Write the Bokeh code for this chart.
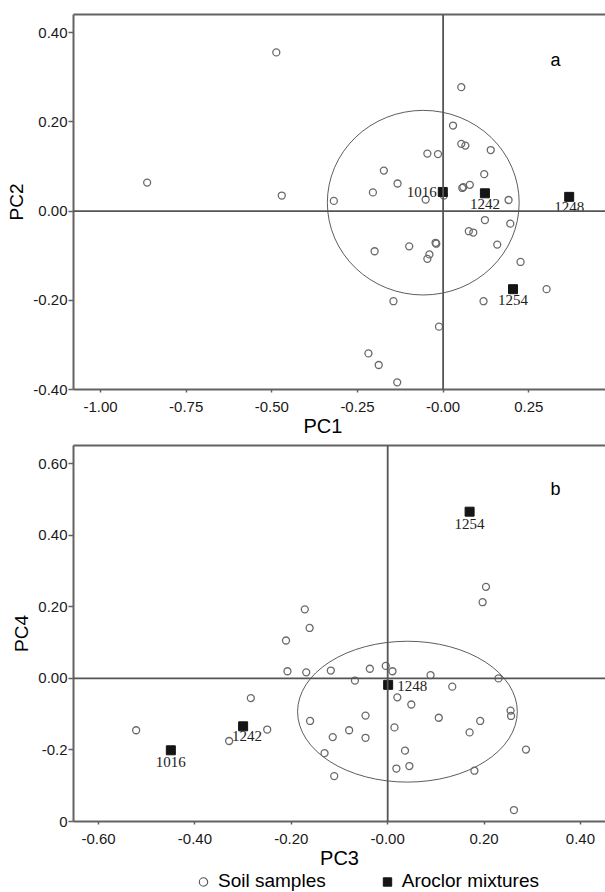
from bokeh.plotting import figure
from bokeh.layouts import column
from bokeh.models import (Span, Label, LinearAxis, FixedTicker, Legend, LegendItem,
                          ColumnDataSource, Range1d)
from bokeh.core.properties import value
from bokeh.embed import file_html
from bokeh.resources import INLINE

# ---------------- data: panel a (PC1 vs PC2) ----------------
soil_pc1 = [-0.487, -0.864, -0.471, 0.053, 0.029, 0.053, 0.065, 0.139, -0.046, -0.015,
            -0.173, 0.120, -0.133, 0.078, 0.056, 0.059, -0.205, -0.319, -0.051, 0.002,
            0.191, 0.122, 0.196, 0.075, 0.088, 0.158, -0.022, -0.020, -0.099, -0.200,
            -0.040, -0.046, 0.226, 0.302, -0.145, 0.118, -0.012, -0.218, -0.188, -0.134]
soil_pc2 = [0.356, 0.064, 0.035, 0.278, 0.192, 0.151, 0.147, 0.137, 0.129, 0.128,
            0.091, 0.083, 0.062, 0.059, 0.052, 0.054, 0.042, 0.023, 0.026, 0.035,
            0.025, -0.020, -0.028, -0.045, -0.048, -0.075, -0.071, -0.073, -0.079, -0.090,
            -0.097, -0.107, -0.114, -0.175, -0.202, -0.202, -0.259, -0.319, -0.345, -0.384]
aroclor_names = ["1016", "1242", "1248", "1254"]
aroclor_pc1 = [-0.001, 0.122, 0.368, 0.204]
aroclor_pc2 = [0.043, 0.040, 0.032, -0.175]
ellipse_a = {"x": [-0.058], "y": [0.019], "w": [0.560], "h": [0.414]}

# ---------------- data: panel b (PC3 vs PC4) ----------------
soil_pc3 = [0.204, 0.197, -0.172, -0.162, -0.211, -0.208, -0.169, -0.118, -0.037, -0.004,
            0.010, 0.089, 0.230, -0.068, 0.134, 0.020, 0.049, 0.255, 0.256, -0.046,
            0.106, -0.161, 0.192, 0.014, -0.080, 0.170, -0.114, -0.046, 0.287, 0.036,
            -0.131, 0.045, 0.018, 0.180, -0.111, 0.262, -0.284, -0.250, -0.329, -0.522]
soil_pc4 = [0.256, 0.213, 0.193, 0.141, 0.106, 0.020, 0.017, 0.022, 0.027, 0.035,
            0.020, 0.009, 0.000, -0.006, -0.023, -0.053, -0.073, -0.090, -0.105, -0.104,
            -0.110, -0.119, -0.119, -0.137, -0.145, -0.151, -0.164, -0.166, -0.199, -0.202,
            -0.209, -0.245, -0.252, -0.258, -0.273, -0.368, -0.055, -0.143, -0.175, -0.145]
aroclor_pc3 = [-0.450, -0.300, 0.001, 0.170]
aroclor_pc4 = [-0.201, -0.134, -0.018, 0.466]
ellipse_b = {"x": [0.041], "y": [-0.093], "w": [0.456], "h": [0.394]}

# ticks
a_xticks = [-1.0, -0.75, -0.5, -0.25, 0.0, 0.25]
a_xlabels = ["-1.00", "-0.75", "-0.50", "-0.25", "-0.00", "0.25"]
a_yticks = [-0.4, -0.2, 0.0, 0.2, 0.4]
a_ylabels = ["-0.40", "-0.20", "0.00", "0.20", "0.40"]
b_xticks = [-0.6, -0.4, -0.2, 0.0, 0.2, 0.4]
b_xlabels = ["-0.60", "-0.40", "-0.20", "-0.00", "0.20", "0.40"]
b_yticks = [-0.4, -0.2, 0.0, 0.2, 0.4, 0.6]
b_ylabels = ["0", "-0.2", "0.00", "0.20", "0.40", "0.60"]
legend_labels = ["Soil samples", "Aroclor mixtures"]

AX = "#626262"
TXT = "#1a1a1a"
SANS = "Liberation Sans"


def style_axes(p, xt, xl, yt, yl, xlabel, ylabel):
    p.outline_line_color = None
    p.grid.visible = False
    for ax, t, l in ((p.xaxis[0], xt, xl), (p.yaxis[0], yt, yl)):
        ax.ticker = FixedTicker(ticks=t)
        ax.major_label_overrides = {k: v for k, v in zip(t, l)}
        ax.axis_line_color = AX
        ax.axis_line_width = 2
        ax.major_tick_line_color = AX
        ax.major_tick_line_width = 1.5
        ax.major_tick_in = 0
        ax.minor_tick_line_color = None
        ax.major_label_text_font = SANS
        ax.major_label_text_font_size = "15px"
        ax.major_label_text_color = TXT
        ax.axis_label_text_font = SANS
        ax.axis_label_text_font_style = "normal"
        ax.axis_label_text_color = "#000000"
    p.xaxis[0].major_tick_out = 3
    p.xaxis[0].major_label_standoff = 9
    p.xaxis[0].axis_label = xlabel
    p.xaxis[0].axis_label_text_font_size = "20px"
    p.xaxis[0].axis_label_standoff = 0
    p.yaxis[0].major_tick_out = 5
    p.yaxis[0].major_label_standoff = 1
    p.yaxis[0].axis_label = ylabel
    p.yaxis[0].axis_label_text_font_size = "19px"
    p.yaxis[0].axis_label_standoff = 3
    top = LinearAxis(ticker=FixedTicker(ticks=[]), axis_line_color=AX, axis_line_width=2,
                     major_tick_out=0, major_tick_in=0, major_label_standoff=0,
                     major_label_text_font_size="0px", minor_tick_line_color=None)
    p.add_layout(top, "above")
    p.add_layout(Span(location=0, dimension="height", line_color="#555555", line_width=1.8))
    p.add_layout(Span(location=0, dimension="width", line_color="#555555", line_width=1.8))


def add_points(p, sx, sy, ax_, ay_, ell, offx, offy, aligns):
    p.ellipse(x=ell["x"], y=ell["y"], width=ell["w"], height=ell["h"],
              fill_color=None, line_color="#333333", line_width=0.8)
    r1 = p.scatter(sx, sy, marker="circle", size=7, fill_color=None,
                   line_color="#6a6a6a", line_width=1.3)
    src = ColumnDataSource(dict(x=ax_, y=ay_, t=aroclor_names, ox=offx, oy=offy, al=aligns))
    r2 = p.scatter("x", "y", source=src, marker="square", size=9,
                   fill_color="#151515", line_color="#151515")
    p.text("x", "y", text="t", source=src, x_offset="ox", y_offset="oy", text_align="al",
           text_baseline="middle", text_font=value("Liberation Serif"),
           text_font_size="15px", text_color="#222222")
    return r1, r2


# ---------------- panel a ----------------
pa = figure(width=605, height=440, x_range=Range1d(-1.079, 0.474), y_range=Range1d(-0.40, 0.441),
            output_backend="svg", toolbar_location=None,
            min_border_left=73, min_border_right=0, min_border_top=14, min_border_bottom=51)
style_axes(pa, a_xticks, a_xlabels, a_yticks, a_ylabels,
           "PC1" + "\u00a0" * 6, "PC2")
add_points(pa, soil_pc1, soil_pc2, aroclor_pc1, aroclor_pc2, ellipse_a,
           [-6, 0, 0, 0], [0, 11, 10, 11], ["right", "center", "center", "center"])
pa.add_layout(Label(x=0.328, y=0.338, text="a", text_font=SANS, text_font_size="18px",
                    text_align="center", text_baseline="middle", text_color="#000000"))

# ---------------- panel b ----------------
pb = figure(width=605, height=431, x_range=Range1d(-0.652, 0.452), y_range=Range1d(-0.40, 0.651),
            output_backend="svg", toolbar_location=None,
            min_border_left=73, min_border_right=0, min_border_top=5, min_border_bottom=50)
style_axes(pb, b_xticks, b_xlabels, b_yticks, b_ylabels, "PC3", "PC4")
add_points(pb, soil_pc3, soil_pc4, aroclor_pc3, aroclor_pc4, ellipse_b,
           [0, 4, 9, 0], [12, 10, 1, 12], ["center", "center", "left", "center"])
pb.add_layout(Label(x=0.348, y=0.530, text="b", text_font=SANS, text_font_size="18px",
                    text_align="center", text_baseline="middle", text_color="#000000"))

# ---------------- legend strip ----------------
pl = figure(width=605, height=21, x_range=Range1d(-0.652, 0.452), y_range=Range1d(-0.40, 0.651),
            output_backend="svg", toolbar_location=None, x_axis_type=None, y_axis_type=None,
            min_border_left=0, min_border_right=0, min_border_top=0, min_border_bottom=0)
pl.outline_line_color = None
pl.grid.visible = False
lr1 = pl.scatter(soil_pc3, soil_pc4, marker="circle", size=8, fill_color=None,
                 line_color="#555555", line_width=1.1, visible=False)
lr2 = pl.scatter(aroclor_pc3, aroclor_pc4, marker="square", size=8, fill_color="#151515",
                 line_color="#151515", visible=False)
legend = Legend(items=[LegendItem(label=legend_labels[0], renderers=[lr1]),
                       LegendItem(label=legend_labels[1], renderers=[lr2])],
                location=(119, 0), orientation="horizontal", padding=0, margin=0,
                spacing=50, label_standoff=4, glyph_width=22, glyph_height=21,
                label_height=21, label_text_font=SANS, label_text_font_size="19px",
                label_text_color="#000000", background_fill_alpha=0, border_line_color=None)
pl.add_layout(legend, "center")

layout = column(pa, pb, pl, spacing=0)
open("out.html", "w").write(file_html(layout, INLINE))
